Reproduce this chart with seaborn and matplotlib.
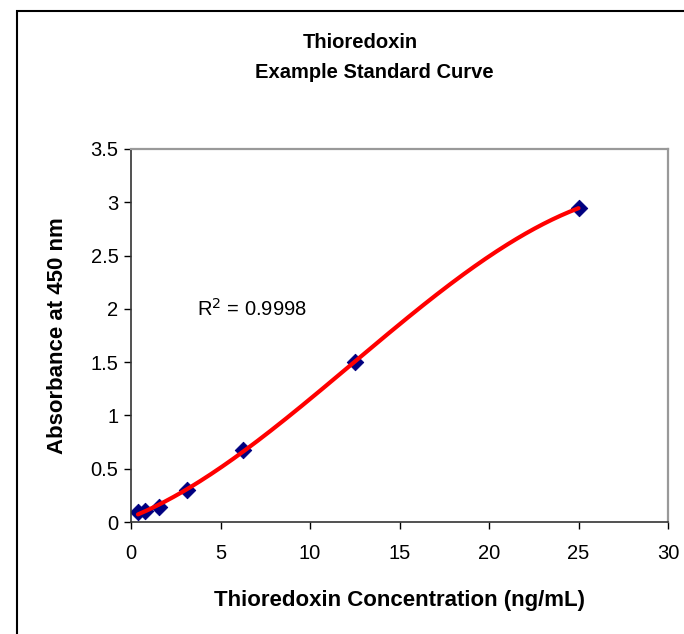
import numpy as np
import pandas as pd
import matplotlib
matplotlib.use("Agg")
import matplotlib.pyplot as plt
from matplotlib.patches import Rectangle
from matplotlib.ticker import FuncFormatter
import seaborn as sns

conc = [0.39, 0.78, 1.56, 3.125, 6.25, 12.5, 25.0]
absorb = [0.09, 0.10, 0.14, 0.30, 0.675, 1.50, 2.945]
r2_label = "R$^2$ = 0.9998"

sns.set_style("white")
plt.rcParams["font.family"] = ["Liberation Sans", "DejaVu Sans"]
plt.rcParams["text.color"] = "black"
plt.rcParams["axes.labelcolor"] = "black"

df = pd.DataFrame({"conc": conc, "abs": absorb})

# Excel-style 3rd order polynomial trendline
coef = np.polyfit(df["conc"], df["abs"], 3)
xs = np.linspace(df["conc"].min(), df["conc"].max(), 200)
fit = pd.DataFrame({"conc": xs, "abs": np.polyval(coef, xs)})

fig = plt.figure(figsize=(6.84, 6.34), dpi=100)
ax = fig.add_axes([131 / 684, 1 - 522 / 634, (668 - 131) / 684, (522 - 149) / 634])

sns.lineplot(data=fit, x="conc", y="abs", color="red", linewidth=3, ax=ax, zorder=3)
sns.scatterplot(data=df, x="conc", y="abs", marker="D", s=70, color="#000080",
                edgecolor="#000080", ax=ax, zorder=2)

ax.set_xlim(0, 30)
ax.set_ylim(0, 3.5)
ax.set_xticks(range(0, 31, 5))
ax.set_yticks(np.arange(0, 3.51, 0.5))
ax.yaxis.set_major_formatter(FuncFormatter(lambda v, p: f"{v:g}"))
ax.tick_params(axis="both", direction="out", length=5, width=1, labelsize=14.5,
               colors="black", left=True, bottom=True)
ax.tick_params(axis="x", pad=11)
ax.tick_params(axis="y", pad=4)

for side in ["left", "bottom"]:
    ax.spines[side].set_color("#333333")
    ax.spines[side].set_linewidth(1.2)
for side in ["top", "right"]:
    ax.spines[side].set_color("#999999")
    ax.spines[side].set_linewidth(1.6)

ax.set_xlabel("Thioredoxin Concentration (ng/mL)", fontsize=16, fontweight="bold", labelpad=19)
ax.set_ylabel("Absorbance at 450 nm", fontsize=16, fontweight="bold", labelpad=16)

ax.text(3.7, 2.0, r2_label, fontsize=14.5, ha="left", va="center")

fig.text(360 / 684, 1 - 42 / 634, "Thioredoxin", fontsize=14.5, fontweight="bold",
         ha="center", va="center")
fig.text(374 / 684, 1 - 73 / 634, "Example Standard Curve", fontsize=14.5, fontweight="bold",
         ha="center", va="center")

fig.patches.append(Rectangle((17 / 684, -0.1), 1.2, 1 - 11 / 634 + 0.1,
                             transform=fig.transFigure, fill=False,
                             edgecolor="black", linewidth=1.5))

fig.savefig("out.png", dpi=100)
